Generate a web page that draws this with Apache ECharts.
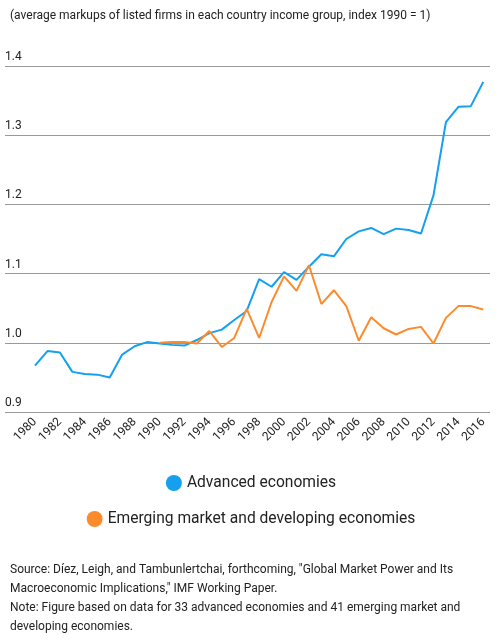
<!DOCTYPE html>
<html>
<head>
<meta charset="utf-8">
<script src="https://cdn.jsdelivr.net/npm/echarts@6/dist/echarts.min.js"></script>
<style>
    html, body { margin: 0; padding: 0; background: #fff; }
    #chart { width: 502px; height: 640px; }
</style>
</head>
<body>
<div id="chart"></div>
<script type="text/javascript">
    // data
    var years = [1980, 1981, 1982, 1983, 1984, 1985, 1986, 1987, 1988, 1989,
        1990, 1991, 1992, 1993, 1994, 1995, 1996, 1997, 1998, 1999,
        2000, 2001, 2002, 2003, 2004, 2005, 2006, 2007, 2008, 2009,
        2010, 2011, 2012, 2013, 2014, 2015, 2016];
    var advanced = [0.967, 0.988, 0.986, 0.958, 0.955, 0.954, 0.950, 0.983, 0.995, 1.001,
        0.999, 0.997, 0.996, 1.004, 1.014, 1.019, 1.033, 1.046, 1.092, 1.081,
        1.102, 1.091, 1.110, 1.128, 1.125, 1.150, 1.161, 1.166, 1.157, 1.165,
        1.163, 1.158, 1.213, 1.319, 1.341, 1.342, 1.377];
    var emerging = [null, null, null, null, null, null, null, null, null, null,
        1.000, 1.001, 1.001, 0.999, 1.017, 0.994, 1.007, 1.049, 1.007, 1.059,
        1.096, 1.075, 1.112, 1.056, 1.076, 1.053, 1.003, 1.037, 1.021, 1.012,
        1.020, 1.023, 0.999, 1.036, 1.053, 1.053, 1.048];
    var yearLabels = [1980, 1982, 1984, 1986, 1988, 1990, 1992, 1994, 1996, 1998,
        2000, 2002, 2004, 2006, 2008, 2010, 2012, 2014, 2016];
    var seriesNames = ['Advanced economies', 'Emerging market and developing economies'];
    var subtitle = '(average markups of listed firms in each country income group, index 1990 = 1)';
    var footnote = 'Source: D\u00edez, Leigh, and Tambunlertchai, forthcoming, "Global Market Power and Its\n' +
        'Macroeconomic Implications," IMF Working Paper.\n' +
        'Note: Figure based on data for 33 advanced economies and 41 emerging market and\n' +
        'developing economies.';

    function pairs(vals) {
        return years.map(function (y, i) { return [y, vals[i]]; });
    }

    var FONT = 'Roboto, "Noto Sans", sans-serif';
    var MYCHART = echarts.init(document.getElementById('chart'));
    var option = {
        backgroundColor: '#fff',
        animation: false,
        textStyle: {fontFamily: FONT},
        title: [
            {
                text: subtitle, left: 5, top: 5,
                textStyle: {fontSize: 12, fontWeight: 'normal', color: '#222', fontFamily: FONT}
            },
            {
                text: footnote, left: 5, top: 555,
                textStyle: {fontSize: 12, fontWeight: 'normal', color: '#222', lineHeight: 19, fontFamily: FONT}
            }
        ],
        legend: [
            {
                data: [seriesNames[0]], left: 'center', top: 470,
                icon: 'circle', itemWidth: 16, itemHeight: 16, itemGap: 10,
                textStyle: {fontSize: 15.6, color: '#222', fontFamily: FONT}
            },
            {
                data: [seriesNames[1]], left: 'center', top: 506,
                icon: 'circle', itemWidth: 16, itemHeight: 16, itemGap: 10,
                textStyle: {fontSize: 15.6, color: '#222', fontFamily: FONT}
            }
        ],
        grid: {left: 5, right: 12, top: 66, bottom: 228, containLabel: false},
        xAxis: {
            type: 'value',
            min: 1977.59,
            max: 2016.54,
            axisLine: {show: false},
            axisTick: {show: false},
            splitLine: {show: false},
            axisLabel: {
                customValues: yearLabels,
                rotate: 45,
                margin: 8,
                fontSize: 12,
                color: '#222',
                formatter: function (v) { return String(v); }
            }
        },
        yAxis: {
            type: 'value',
            min: 0.9,
            max: 1.4,
            interval: 0.1,
            axisLine: {show: false},
            axisTick: {show: false},
            splitLine: {lineStyle: {color: '#999', width: 1}},
            axisLabel: {
                inside: true,
                margin: 0,
                verticalAlign: 'bottom',
                padding: [0, 0, 3, 0],
                fontSize: 12,
                color: '#222',
                formatter: function (v) { return v.toFixed(1); }
            }
        },
        series: [
            {
                name: seriesNames[0], type: 'line', data: pairs(advanced),
                showSymbol: false, color: '#14a0ee',
                lineStyle: {width: 2, color: '#14a0ee'}
            },
            {
                name: seriesNames[1], type: 'line', data: pairs(emerging),
                showSymbol: false, color: '#fb8c2e',
                lineStyle: {width: 2, color: '#fb8c2e'}
            }
        ]
    };
    MYCHART.setOption(option);
</script>
</body>
</html>
